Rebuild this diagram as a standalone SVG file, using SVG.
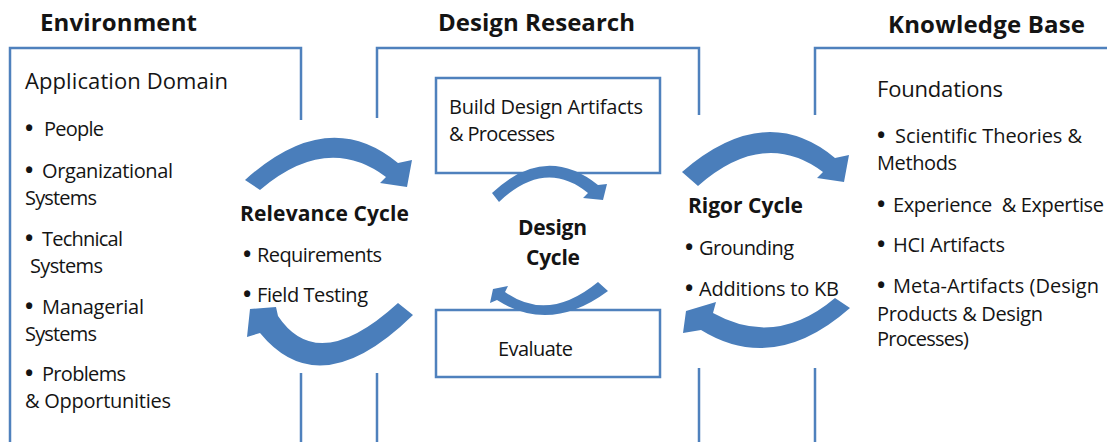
<svg xmlns="http://www.w3.org/2000/svg" width="1107" height="442" viewBox="0 0 1107 442">
<style>
.box{fill:none;stroke:#4f81bd;stroke-width:2.5}
.arr{fill:#4a7ebb}
.t{font-family:"Open Sans","Liberation Sans",sans-serif;fill:#141414}
.title{font-size:24px;font-weight:bold}
.head{font-size:22px}
.item{font-size:20px}
.bul{font-size:22px;font-weight:bold}
.bold{font-size:21px;font-weight:bold}
</style>
<rect width="1107" height="442" fill="#ffffff"/>

<g id="environment">
  <path class="box" d="M301,120 V48 H10 V442 M301,373 V442"/>
  <text class="t title" x="40" y="31" textLength="157">Environment</text>
  <text class="t head" x="25" y="89" textLength="203">Application Domain</text>
  <text class="t bul" x="25" y="136">•</text>
  <text class="t item" x="44" y="136" textLength="60">People</text>
  <text class="t bul" x="25" y="178">•</text>
  <text class="t item" x="42" y="178" textLength="131">Organizational</text>
  <text class="t item" x="25" y="205" textLength="72">Systems</text>
  <text class="t bul" x="25" y="246">•</text>
  <text class="t item" x="42" y="246" textLength="81">Technical</text>
  <text class="t item" x="30" y="273" textLength="73">Systems</text>
  <text class="t bul" x="25" y="314">•</text>
  <text class="t item" x="42" y="314" textLength="102">Managerial</text>
  <text class="t item" x="25" y="341" textLength="72">Systems</text>
  <text class="t bul" x="25" y="381">•</text>
  <text class="t item" x="42" y="381" textLength="84">Problems</text>
  <text class="t item" x="25" y="408" textLength="146">&amp; Opportunities</text>
</g>

<g id="design-research">
  <path class="box" d="M377,118 V48 H699 V115 M377,373 V442 M699,368 V442"/>
  <text class="t title" x="438" y="31" textLength="197">Design Research</text>
</g>

<g id="build">
  <rect class="box" x="436" y="78" width="224" height="95"/>
  <text class="t item" x="449" y="114" textLength="194">Build Design Artifacts</text>
  <text class="t item" x="449" y="141" textLength="106">&amp; Processes</text>
</g>

<g id="evaluate">
  <rect class="box" x="436" y="310" width="224" height="67"/>
  <text class="t item" x="498" y="356" textLength="75">Evaluate</text>
</g>

<g id="design-cycle">
  <text class="t bold" x="518" y="235" textLength="69">Design</text>
  <text class="t bold" x="526" y="265" textLength="54">Cycle</text>
</g>

<g id="knowledge-base">
  <path class="box" d="M815,115 V48 H1110 M815,368 V442"/>
  <text class="t title" x="888" y="33" textLength="197">Knowledge Base</text>
  <text class="t head" x="877" y="97" textLength="126">Foundations</text>
  <text class="t bul" x="877" y="143">•</text>
  <text class="t item" x="895" y="143" textLength="187">Scientific Theories &amp;</text>
  <text class="t item" x="877" y="170" textLength="80">Methods</text>
  <text class="t bul" x="877" y="212">•</text>
  <text class="t item" x="893" y="212" textLength="211">Experience&#160; &amp; Expertise</text>
  <text class="t bul" x="877" y="252">•</text>
  <text class="t item" x="893" y="252" textLength="112">HCI Artifacts</text>
  <text class="t bul" x="877" y="293">•</text>
  <text class="t item" x="893" y="293" textLength="206">Meta-Artifacts (Design</text>
  <text class="t item" x="877" y="321" textLength="166">Products &amp; Design</text>
  <text class="t item" x="877" y="346" textLength="92">Processes)</text>
</g>

<g id="relevance-cycle">
  <text class="t bold" x="240" y="221" textLength="169">Relevance Cycle</text>
  <text class="t bul" x="243" y="262">•</text>
  <text class="t item" x="257" y="262" textLength="125">Requirements</text>
  <text class="t bul" x="243" y="302">•</text>
  <text class="t item" x="257" y="302" textLength="111">Field Testing</text>
</g>

<g id="rigor-cycle">
  <text class="t bold" x="688" y="213" textLength="115">Rigor Cycle</text>
  <text class="t bul" x="685" y="255">•</text>
  <text class="t item" x="699" y="255" textLength="95">Grounding</text>
  <text class="t bul" x="685" y="296">•</text>
  <text class="t item" x="699" y="296" textLength="140">Additions to KB</text>
</g>

<g id="connectors">
  <path class="arr" d="M245,180 Q328,105 398,163 L412,160 L407,187 L380,183 L386,177 Q327,133 260,190 Z"/>
  <path class="arr" d="M413,315 Q320,406 260,333 L247,337 L250,309 L276,307 L278,316 Q318,376 398,303 Z"/>
  <path class="arr" d="M682,172 Q765,100 835,158 L849,155 L844,182 L817,178 L823,172 Q764,128 698,186 Z"/>
  <path class="arr" d="M850,308 Q774,375 701,330 L683,333 L686,311 L716,302 L713,313 Q776,348 835,298 Z"/>
  <path class="arr" d="M492,193 Q545,143 598,185 L607,184 L603,200 L583,198 L588,193 Q545,158 499,202 Z"/>
  <path class="arr" d="M608,291 Q550,334 497,300 L490,303 L493,289 L508,286 L505,292 Q548,323 598,282 Z"/>
</g>
</svg>
